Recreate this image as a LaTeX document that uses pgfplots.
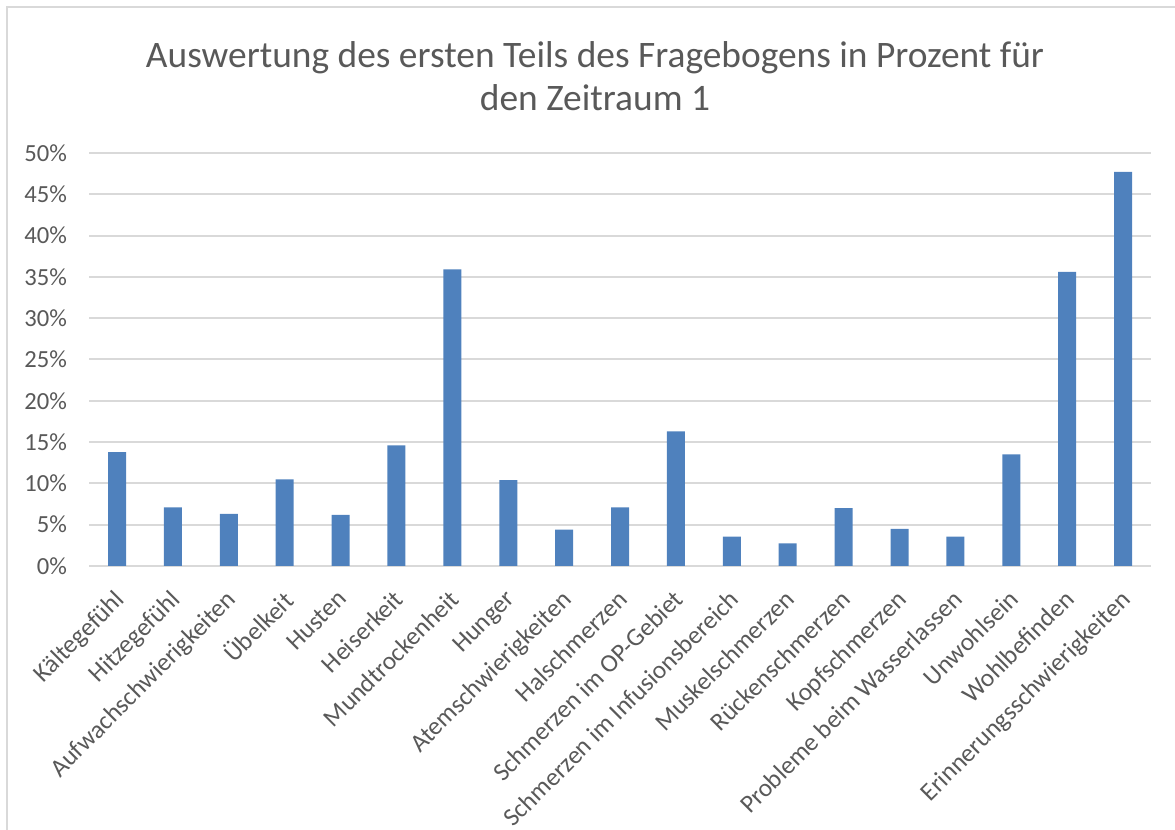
\documentclass[border=0pt]{standalone}
\usepackage{pgfplots}
\pgfplotsset{compat=1.18}
\usepackage{fontspec}
\setmainfont{Carlito}
\definecolor{barblue}{HTML}{4F81BD}
\definecolor{gridgray}{HTML}{D9D9D9}
\definecolor{textgray}{HTML}{595959}
\definecolor{framegray}{HTML}{D9D9D9}
\begin{document}
\begin{tikzpicture}
\useasboundingbox (0pt,0pt) rectangle (587.5pt,415pt);
\draw[framegray, line width=1pt] (3.5pt,0pt) -- (3.5pt,411.5pt) -- (587.5pt,411.5pt);
\node[align=center, text=textgray, font=\fontsize{18.7}{21.5}\selectfont] at (297.5pt,377pt)
  {Auswertung des ersten Teils des Fragebogens in Prozent für\\den Zeitraum 1};
\begin{axis}[
  at={(58.5pt,132pt)}, anchor=origin,
  scale only axis,
  width=531pt, height=206.5pt,
  xmin=-0.5, xmax=18.5,
  ymin=0, ymax=50,
  ytick={0,5,...,50},
  yticklabel={\pgfmathprintnumber{\tick}\%},
  /pgf/number format/assume math mode=true,
  ymajorgrids,
  major grid style={gridgray, line width=1pt},
  axis line style={draw=none},
  major tick length=0pt,
  xtick=data,
  xticklabels={Kältegefühl, Hitzegefühl, Aufwachschwierigkeiten, Übelkeit, Husten, Heiserkeit, Mundtrockenheit, Hunger, Atemschwierigkeiten, Halschmerzen, Schmerzen im OP-Gebiet, Schmerzen im Infusionsbereich, Muskelschmerzen, Rückenschmerzen, Kopfschmerzen, Probleme beim Wasserlassen, Unwohlsein, Wohlbefinden, Erinnerungsschwierigkeiten},
  xticklabel style={xshift=-2pt, yshift=-11pt, rotate=45, anchor=north east, font=\fontsize{12.7}{14}\selectfont, text=textgray, inner sep=0pt},
  yticklabel style={font=\fontsize{12.3}{14}\selectfont, text=textgray, xshift=-7.5pt},
  ybar, bar width=9pt,
  clip=false,
]
\addplot[fill=barblue, draw=none] coordinates {
(0,13.8) (1,7.1) (2,6.3) (3,10.5) (4,6.2) (5,14.6) (6,35.9) (7,10.4) (8,4.4) (9,7.1)
(10,16.3) (11,3.55) (12,2.75) (13,7.0) (14,4.5) (15,3.55) (16,13.5) (17,35.6) (18,47.7)
};
\end{axis}
\end{tikzpicture}
\end{document}
